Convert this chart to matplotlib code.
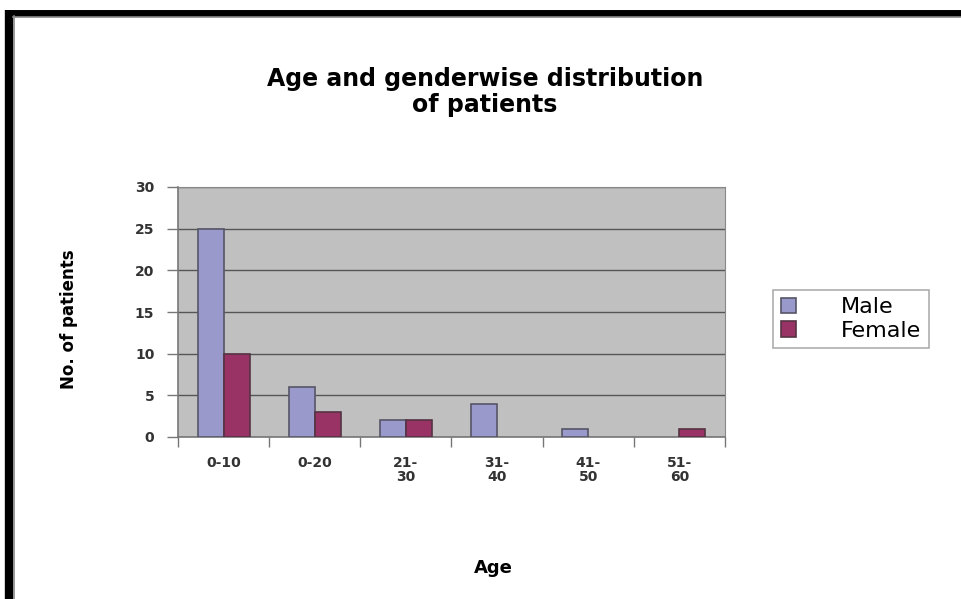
import matplotlib.pyplot as plt
from matplotlib.lines import Line2D
import numpy as np

plt.rcParams['font.family'] = ['DejaVu Sans']

age_groups = ['0-10', '0-20', '21-\n30', '31-\n40', '41-\n50', '51-\n60']
male = [25, 6, 2, 4, 1, 0]
female = [10, 3, 2, 0, 0, 1]

fig = plt.figure(figsize=(9.62, 5.99), dpi=100)
ax = fig.add_axes([178/962, 1 - 437/599, 547/962, 250/599])
ax.set_facecolor('#C0C0C0')

x = np.arange(len(age_groups))
w = 1 / 3.5
b1 = ax.bar(x - w/2, male, w, color='#9999CC', edgecolor='#555566', linewidth=1.2, label='Male', zorder=3)
b2 = ax.bar(x + w/2, female, w, color='#993366', edgecolor='#553344', linewidth=1.2, label='Female', zorder=3)
for p in list(b1) + list(b2):
    if p.get_height() == 0:
        p.set_visible(False)

ax.set_xlim(-0.5, len(age_groups) - 0.5)
ax.set_ylim(0, 30)
ax.set_yticks(range(0, 31, 5))
ax.yaxis.grid(True, color='#555555', linewidth=1)
ax.set_axisbelow(True)

ax.set_xticks(x)
ax.set_xticklabels(age_groups, fontsize=10, fontweight='bold', color='#333333', linespacing=1.0)
ax.tick_params(axis='x', which='major', length=0, pad=14)
ax.set_xticks(np.arange(-0.5, len(age_groups), 1), minor=True)
ax.tick_params(axis='x', which='minor', length=7, color='#777777', width=1)
ax.tick_params(axis='y', length=8, color='#777777', width=1, labelsize=10, pad=9,
               labelcolor='#333333')
for lab in ax.get_yticklabels():
    lab.set_fontweight('bold')

for s in ['top', 'right']:
    ax.spines[s].set_color('#888888')
for s in ['left', 'bottom']:
    ax.spines[s].set_color('#777777')
    ax.spines[s].set_linewidth(1.2)

ax.set_ylabel('No. of patients', fontsize=12, fontweight='bold', va='center')
ax.yaxis.set_label_coords(-0.2, 0.47)
ax.set_xlabel('Age', fontsize=13, fontweight='bold', va='center')
ax.xaxis.set_label_coords(0.576, -0.524)

fig.text(485/962, 0.846, 'Age and genderwise distribution\nof patients', ha='center', va='center',
         fontsize=17, fontweight='bold', linespacing=1.1)

leg = ax.legend(loc='center left', bbox_to_anchor=(773/962, 1 - 319/599),
                bbox_transform=fig.transFigure, fontsize=16, frameon=True,
                fancybox=False, edgecolor='#999999', handlelength=0.7, handleheight=0.7,
                handletextpad=2.0, borderpad=0.35, labelspacing=0.15, borderaxespad=0)
leg.get_frame().set_linewidth(1.2)

# outer frame (black with grey shadow)
fig.add_artist(Line2D([9/962, 9/962], [0, 1 - 10/599], transform=fig.transFigure,
                      color='black', linewidth=6, solid_capstyle='butt'))
fig.add_artist(Line2D([6/962, 1], [1 - 13/599, 1 - 13/599], transform=fig.transFigure,
                      color='black', linewidth=5, solid_capstyle='butt'))
fig.add_artist(Line2D([13.5/962, 13.5/962], [0, 1 - 16/599], transform=fig.transFigure,
                      color='#888888', linewidth=1.2))
fig.add_artist(Line2D([13/962, 1], [1 - 16.5/599, 1 - 16.5/599], transform=fig.transFigure,
                      color='#888888', linewidth=1.2))

fig.savefig('out.png', dpi=100)
